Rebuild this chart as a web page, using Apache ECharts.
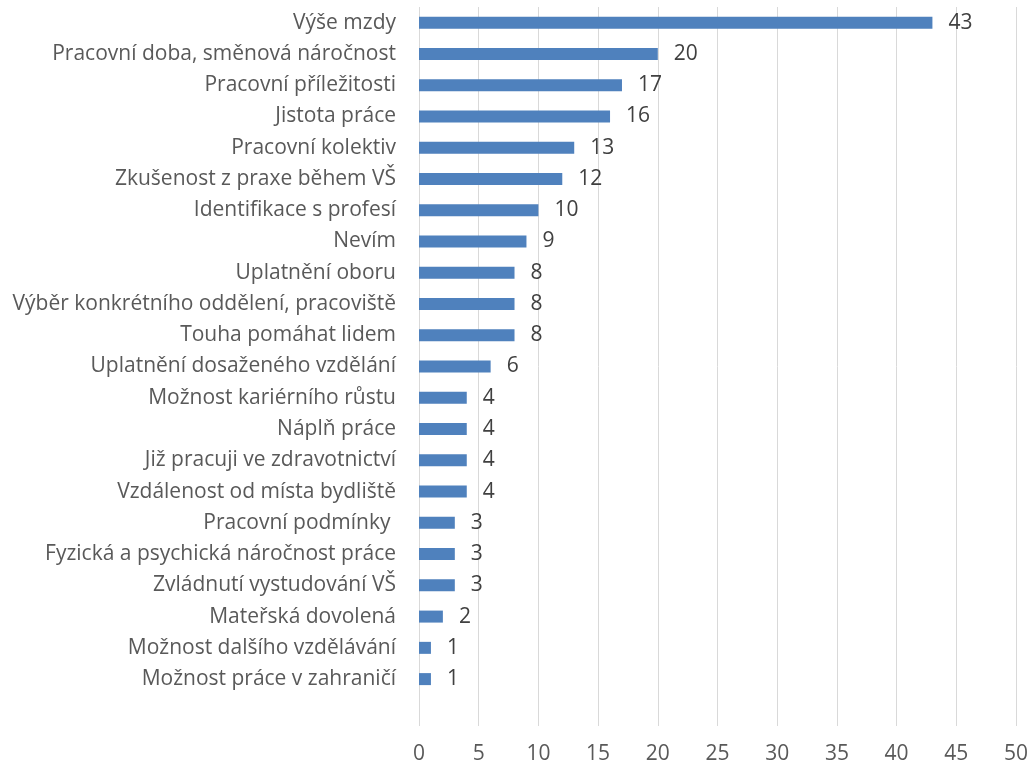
<!DOCTYPE html>
<html>
<head>
<meta charset="utf-8">
<script src="https://cdn.jsdelivr.net/npm/echarts@6/dist/echarts.min.js"></script>
<style>
  html, body { margin: 0; padding: 0; background: #fff; }
  #chart { width: 1034px; height: 766px; }
</style>
</head>
<body>
<div id="chart"></div>
<script>
// categories top to bottom (last one is the empty slot Excel leaves at the bottom)
const categories = [
  "Výše mzdy",
  "Pracovní doba, směnová náročnost",
  "Pracovní příležitosti",
  "Jistota práce",
  "Pracovní kolektiv",
  "Zkušenost z praxe během VŠ",
  "Identifikace s profesí",
  "Nevím",
  "Uplatnění oboru",
  "Výběr konkrétního oddělení, pracoviště",
  "Touha pomáhat lidem",
  "Uplatnění dosaženého vzdělání",
  "Možnost kariérního růstu",
  "Náplň práce",
  "Již pracuji ve zdravotnictví",
  "Vzdálenost od místa bydliště",
  "Pracovní podmínky ",
  "Fyzická a psychická náročnost práce",
  "Zvládnutí vystudování VŠ",
  "Mateřská dovolená",
  "Možnost dalšího vzdělávání",
  "Možnost práce v zahraničí",
  ""
];
const values = [43, 20, 17, 16, 13, 12, 10, 9, 8, 8, 8, 6, 4, 4, 4, 4, 3, 3, 3, 2, 1, 1, null];

const chart = echarts.init(document.getElementById("chart"));
const font = "'Open Sans', sans-serif";

chart.setOption({
  animation: false,
  grid: { left: 419, right: 18, top: 7, bottom: 40, containLabel: false },
  xAxis: {
    type: "value",
    min: 0,
    max: 50,
    interval: 5,
    axisLine: { show: false },
    axisTick: { show: false },
    splitLine: { show: true, lineStyle: { color: "#d9d9d9", width: 1 } },
    axisLabel: { color: "#595959", fontSize: 21, fontFamily: font, margin: 18 }
  },
  yAxis: {
    type: "category",
    inverse: true,
    data: categories,
    axisLine: { show: false },
    axisTick: { show: false },
    splitLine: { show: false },
    axisLabel: { color: "#595959", fontSize: 21, fontFamily: font, margin: 23, interval: 0, padding: [3, 0, 0, 0] }
  },
  series: [
    {
      type: "bar",
      data: values,
      barWidth: 12,
      itemStyle: { color: "#4f81bd" },
      label: {
        show: true,
        position: "right",
        distance: 16,
        color: "#404040",
        fontSize: 21,
        fontFamily: font,
        padding: [3, 0, 0, 0]
      }
    }
  ]
});
</script>
</body>
</html>
